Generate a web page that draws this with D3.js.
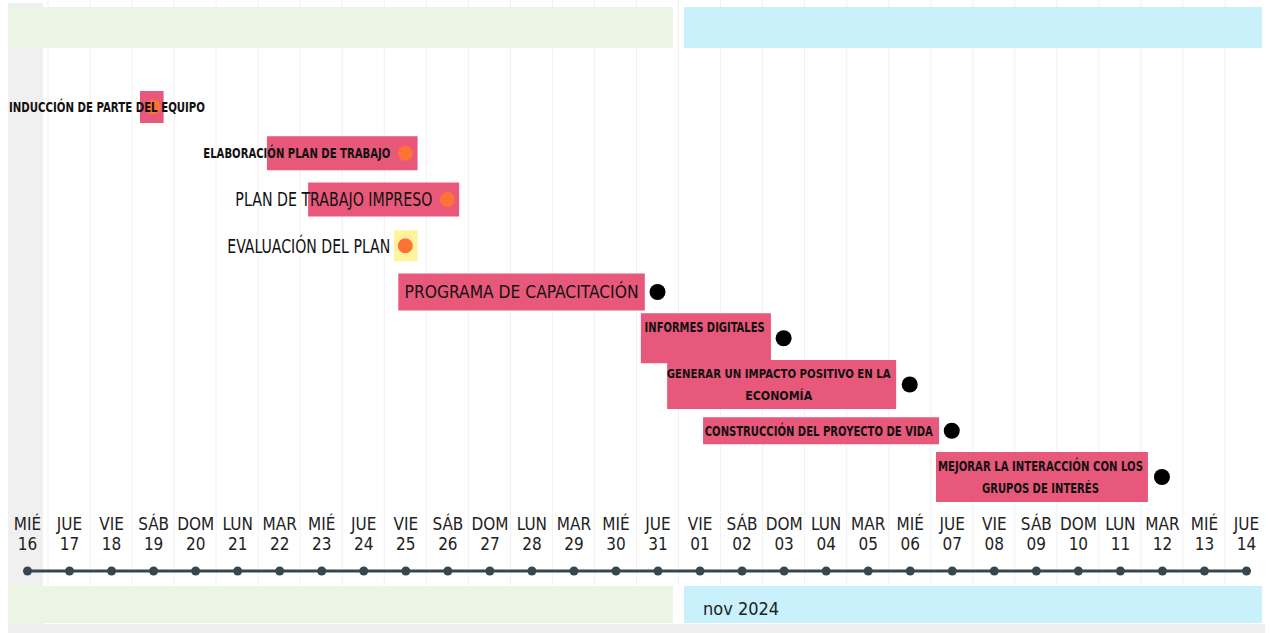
<!DOCTYPE html>
<html><head><meta charset="utf-8">
<script src="https://cdn.jsdelivr.net/npm/d3@7"></script>
<style>
html,body{margin:0;padding:0;background:#fff;overflow:hidden;}
svg{display:block;}
</style></head><body>
<svg id="chart" width="1271" height="633"></svg>
<script>
// ---------------- DATA ----------------
const taskLabels = [
  "INDUCCIÓN DE PARTE DEL EQUIPO",
  "ELABORACIÓN PLAN DE TRABAJO",
  "PLAN DE TRABAJO IMPRESO",
  "EVALUACIÓN DEL PLAN",
  "PROGRAMA DE CAPACITACIÓN",
  "INFORMES DIGITALES\n",
  "GENERAR UN IMPACTO POSITIVO EN LA\nECONOMÍA",
  "CONSTRUCCIÓN DEL PROYECTO DE VIDA",
  "MEJORAR LA INTERACCIÓN CON LOS\nGRUPOS DE INTERÉS"
];
const taskStarts = ["2024-10-19T04:30","2024-10-22T05:00","2024-10-23T04:30","2024-10-25T05:30","2024-10-25T08:00","2024-10-31T02:30","2024-10-31T17:30","2024-11-01T14:00","2024-11-07T03:00"];
const taskEnds   = ["2024-10-19T18:00","2024-10-25T19:00","2024-10-26T18:45","2024-10-25T19:00","2024-10-31T04:45","2024-11-03T04:45","2024-11-06T04:15","2024-11-07T04:45","2024-11-12T04:00"];
const taskMilestones = ["2024-10-19","2024-10-25","2024-10-26","2024-10-25","2024-10-31","2024-11-03","2024-11-06","2024-11-07","2024-11-12"];
const taskStatus = ["en curso","en curso","en curso","en curso","entrega","entrega","entrega","entrega","entrega"];
const taskKind   = ["tarea","tarea","tarea","evaluación","tarea","tarea","tarea","tarea","tarea"];

const axisDayNames = ["MIÉ","JUE","VIE","SÁB","DOM","LUN","MAR","MIÉ","JUE","VIE","SÁB","DOM","LUN","MAR","MIÉ","JUE",
                      "VIE","SÁB","DOM","LUN","MAR","MIÉ","JUE","VIE","SÁB","DOM","LUN","MAR","MIÉ","JUE"];
const axisDayNumbers = ["16","17","18","19","20","21","22","23","24","25","26","27","28","29","30","31",
                        "01","02","03","04","05","06","07","08","09","10","11","12","13","14"];
const firstDay = "2024-10-16";
const lastDay  = "2024-11-14";
const monthStarts = ["2024-10-01","2024-11-01"];
const monthLabels = ["oct 2024","nov 2024"];

// ---------------- STYLE ----------------
const W = 1271, H = 633;
const plotL = 9, plotR = 1262;
const barHeights = [32,34,34,31,37,50,49,27,50];
const labelStyle = [
  {size:14, weight:700, widths:[196]},
  {size:14, weight:700, widths:[187]},
  {size:19, weight:400, widths:[197]},
  {size:19, weight:400, widths:[163]},
  {size:18, weight:400, widths:[234]},
  {size:14, weight:700, widths:[120]},
  {size:13, weight:700, widths:[224,67]},
  {size:14, weight:700, widths:[228]},
  {size:14, weight:700, widths:[205,117]}
];
const kindColor = {"tarea":"#e8587a","evaluación":"#fff39c"};
const statusColor = {"en curso":"#fe7236","entrega":"#000000"};
const statusRadius = {"en curso":7.5,"entrega":8};
const statusGap = {"en curso":15,"entrega":19};
const FONT = "'Liberation Sans Narrow','Arial Narrow','DejaVu Sans Condensed','Liberation Sans',sans-serif";

// ---------------- SCALES ----------------
const pDT = d3.utcParse("%Y-%m-%dT%H:%M");
const pD  = d3.utcParse("%Y-%m-%d");
const noon = s => d3.utcHour.offset(pD(s), 12);

const x = d3.scaleUtc().domain([noon(firstDay), noon(lastDay)]).range([27, 1246]);
const y = d3.scalePoint().domain(d3.range(taskLabels.length)).range([107, 477]);

const svg = d3.select("#chart");
svg.append("rect").attr("width",W).attr("height",H).attr("fill","#fff");

// grey left column & bottom strip
svg.append("rect").attr("x",8).attr("y",3).attr("width",35).attr("height",622).attr("fill","#f0f0f0");
svg.append("rect").attr("x",8).attr("y",624).attr("width",1257).attr("height",9).attr("fill","#efefef");

// day boundary grid lines
const dayStarts = d3.utcDay.range(pD(firstDay), d3.utcDay.offset(pD(lastDay),1)).slice(1);
svg.append("g").selectAll("line").data(dayStarts).join("line")
  .attr("x1",d=>x(d)).attr("x2",d=>x(d)).attr("y1",0).attr("y2",585)
  .attr("stroke","#f1f1f1").attr("stroke-width",1);

// month bands top & bottom
const bandGap = 5.5;
const months = monthStarts.map((m,i)=>{
  const s = pD(m), e = d3.utcMonth.offset(s,1);
  const x0 = Math.max(plotL, x(s)+bandGap), x1 = Math.min(plotR, x(e)-bandGap);
  return {i, s, x0, x1, label: monthLabels[i], lx: x(s)+bandGap+19};
});
const monthColor = ["#ebf5e3","#c8f1fb"];
const mg = svg.append("g");
[[7,41],[586,37]].forEach(([yy,hh])=>{
  mg.append("g").selectAll("rect").data(months).join("rect")
    .attr("x",d=>d.x0).attr("y",yy).attr("width",d=>d.x1-d.x0).attr("height",hh)
    .attr("fill",d=>monthColor[d.i]);
});
mg.append("g").selectAll("text").data(months.filter(d=>d.lx >= plotL)).join("text")
  .attr("x",d=>d.lx).attr("y",615)
  .attr("font-family",FONT).attr("font-size",18).attr("fill","#222")
  .text(d=>d.label);

// ---------------- TASKS ----------------
const tasks = taskLabels.map((l,i)=>({
  i, lines: l.split("\n"), start: pDT(taskStarts[i]), end: pDT(taskEnds[i]),
  ms: noon(taskMilestones[i]), status: taskStatus[i], kind: taskKind[i]
}));

const tg = svg.append("g");
tg.selectAll("rect.bar").data(tasks).join("rect").attr("class","bar")
  .attr("x",d=>x(d.start)).attr("width",d=>x(d.end)-x(d.start))
  .attr("y",d=>y(d.i)-barHeights[d.i]/2).attr("height",d=>barHeights[d.i])
  .attr("fill",d=>kindColor[d.kind]);

tg.selectAll("circle.ms").data(tasks).join("circle").attr("class","ms")
  .attr("cx",d=>x(d.ms)).attr("cy",d=>y(d.i)).attr("r",d=>statusRadius[d.status])
  .attr("fill",d=>statusColor[d.status]);

const lineH = 22.5;
tasks.forEach(d=>{
  const st = labelStyle[d.i];
  const blockW = d3.max(st.widths);
  let right = x(d.ms) - statusGap[d.status];
  let left = Math.max(plotL, right - blockW);
  const cx = left + blockW/2;
  const n = d.lines.length;
  d.lines.forEach((ln,k)=>{
    if(!ln) return;
    const yy = y(d.i) + (k - (n-1)/2)*lineH;
    tg.append("text")
      .attr("x",cx).attr("y",yy).attr("dy","0.36em")
      .attr("text-anchor","middle")
      .attr("font-family",FONT).attr("font-size",st.size).attr("font-weight",st.weight)
      .attr("fill","#111")
      .attr("textLength",st.widths[k]).attr("lengthAdjust","spacingAndGlyphs")
      .text(ln);
  });
});

// ---------------- AXIS ----------------
const tickDates = axisDayNumbers.map((_,i)=>d3.utcDay.offset(noon(firstDay),i));
const axisY = 571;
const ag = svg.append("g").attr("transform",`translate(0,${axisY})`)
  .call(d3.axisBottom(x).tickValues(tickDates).tickSize(0).tickFormat(""));
ag.select(".domain").attr("stroke","#37474f").attr("stroke-width",3)
  .attr("d",`M${x(tickDates[0])},0H${x(tickDates[tickDates.length-1])}`);
const AX_FS = 17;
ag.selectAll(".tick").each(function(d,i){
  const g = d3.select(this);
  g.select("line").remove();
  g.select("text").remove();
  g.append("circle").attr("r",4.5).attr("fill","#37474f");
  g.append("text").attr("class","dn").attr("text-anchor","middle").attr("y",-41)
    .attr("font-family",FONT).attr("font-size",AX_FS).attr("fill","#222").text(axisDayNames[i]);
  g.append("text").attr("class","dd").attr("text-anchor","middle").attr("y",-21)
    .attr("font-family",FONT).attr("font-size",AX_FS).attr("fill","#222").text(axisDayNumbers[i]);
});
// match the reference label width ("DOM" ≈ 37px) whatever narrow font is installed
const probe = svg.append("text").attr("font-family",FONT).attr("font-size",AX_FS).text("DOM");
const k = 37 / probe.node().getComputedTextLength();
probe.remove();
ag.selectAll(".tick text").attr("transform",`scale(${k},1)`);
</script>
</body></html>
